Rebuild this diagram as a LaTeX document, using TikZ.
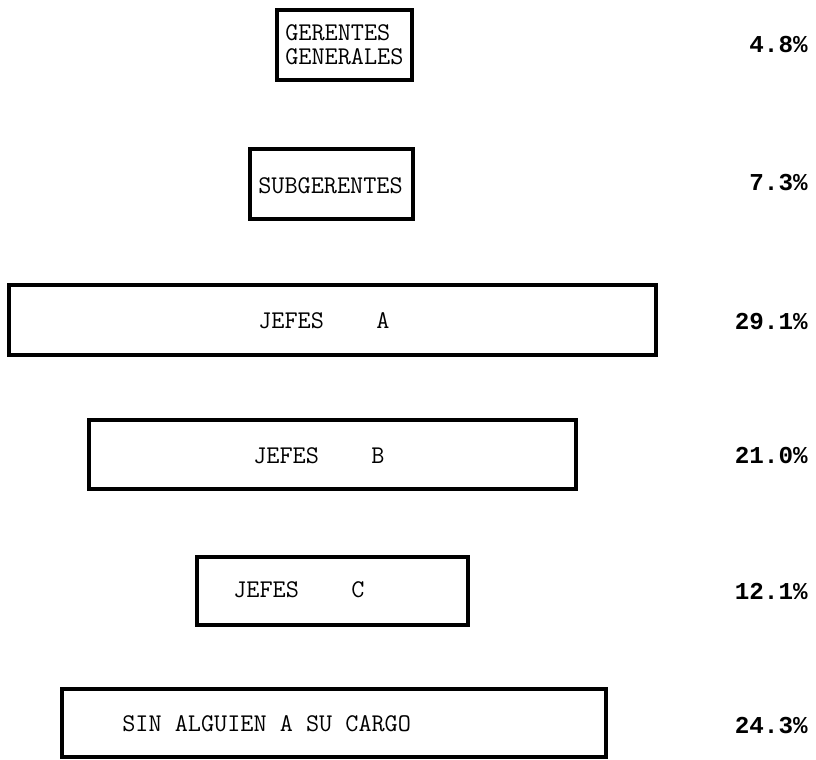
\documentclass[tikz,border=0pt]{standalone}
\usepackage{fontspec}
\newfontfamily\pctfont{Liberation Mono}
\usetikzlibrary{positioning}
\newdimen\px
\px=0.02cm

\begin{document}
\begin{tikzpicture}[
    x=\px, y=-\px,
    % Box styles
    caja/.style={
        draw=black,
        line width=1.9pt,
        anchor=north west,
        outer sep=0pt,
        inner sep=0pt
    },
    etiqueta/.style={
        anchor=west,
        inner sep=0pt,
        font=\ttfamily\fontsize{14.5}{13.7}\selectfont
    },
    porcentaje/.style={
        anchor=east,
        inner sep=0pt,
        font=\pctfont\bfseries\fontsize{13.8}{16}\selectfont
    }
]

    % =========================================================================
    % 0. PAGE FRAME
    % =========================================================================
    \useasboundingbox (0,0) rectangle (816,760);

    % =========================================================================
    % 1. BOXES (one per level)
    % =========================================================================
    \node[caja, minimum width=135\px, minimum height=70\px] (gerentes) at (277,10) {};
    \node[caja, minimum width=163\px, minimum height=70\px] (subger) at (250,149) {};
    \node[caja, minimum width=647\px, minimum height=70\px] (jefesA) at (9,285) {};
    \node[caja, minimum width=487\px, minimum height=69\px] (jefesB) at (89,420) {};
    \node[caja, minimum width=271\px, minimum height=68\px] (jefesC) at (197,557) {};
    \node[caja, minimum width=544\px, minimum height=68\px] (sincargo) at (62,689) {};

    % =========================================================================
    % 2. LABELS INSIDE THE BOXES
    % =========================================================================
    \node[etiqueta, align=left] (t_gerentes) at (285,45) {GERENTES\\GENERALES};
    \node[etiqueta] (t_subger) at (258,186) {SUBGERENTES};
    \node[etiqueta] (t_jefesA) at (258,321) {JEFES~~~~A};
    \node[etiqueta] (t_jefesB) at (253,456) {JEFES~~~~B};
    \node[etiqueta] (t_jefesC) at (233,590) {JEFES~~~~C};
    \node[etiqueta] (t_sincargo) at (122,724) {SIN ALGUIEN A SU CARGO};

    % =========================================================================
    % 3. PERCENTAGES (right column)
    % =========================================================================
    \node[porcentaje] (p_gerentes) at (808,45) {4.8\%};
    \node[porcentaje] (p_subger) at (808,183) {7.3\%};
    \node[porcentaje] (p_jefesA) at (808,322) {29.1\%};
    \node[porcentaje] (p_jefesB) at (808,456) {21.0\%};
    \node[porcentaje] (p_jefesC) at (808,591) {12.1\%};
    \node[porcentaje] (p_sincargo) at (808,726) {24.3\%};

\end{tikzpicture}
\end{document}
